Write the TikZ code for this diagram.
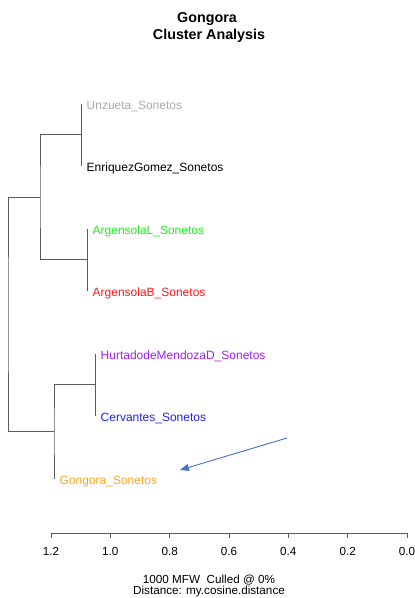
\documentclass[tikz,border=0pt]{standalone}
\usepackage{fontspec}
\setmainfont{Liberation Sans}
\usetikzlibrary{arrows.meta}
\definecolor{cgray}{HTML}{A9A9A9}
\definecolor{cgreen}{HTML}{22EE22}
\definecolor{cred}{HTML}{FF1A1A}
\definecolor{cpurple}{HTML}{A020F0}
\definecolor{cblue}{HTML}{2020F0}
\definecolor{corange}{HTML}{FFA520}
\definecolor{tree}{HTML}{5A5A5A}
\definecolor{arrowblue}{HTML}{4472C4}
\tikzset{
  branch/.style={draw=tree, line width=1pt},
  leaflabel/.style={anchor=base west, inner sep=0pt, xshift=5.5pt, yshift=-5.5pt, font=\fontsize{12}{14}\selectfont},
  axistext/.style={inner sep=0pt, font=\fontsize{11.7}{14}\selectfont},
  titletext/.style={anchor=base, inner sep=0pt, font=\fontsize{14.3}{17}\selectfont\bfseries}
}
\begin{document}
\begin{tikzpicture}[x=1pt,y=-1pt]
\useasboundingbox (0,0) rectangle (415,598);
% title
\node[titletext] (t1) at (207,22) {Gongora};
\node[titletext] (t2) at (209,39) {Cluster Analysis};
% leaves
\coordinate (unz) at (81,103.5);
\coordinate (enr) at (81,166);
\coordinate (argl) at (87,228.5);
\coordinate (argb) at (87,291);
\coordinate (hurt) at (95,353.5);
\coordinate (cerv) at (95,416);
\coordinate (gong) at (54,478.5);
% internal nodes
\coordinate (n1) at (81,134.75);
\coordinate (n2) at (87,259.75);
\coordinate (n3) at (40,197.25);
\coordinate (n4) at (95,384.75);
\coordinate (n5) at (54,431.6);
\coordinate (root) at (8,314.4);
% branches
\draw[branch] (unz) -- (enr);
\draw[branch] (argl) -- (argb);
\draw[branch] (hurt) -- (cerv);
\draw[branch] (n1) -| (n3) |- (n2);
\draw[branch] (n4) -| (n5) -- (gong);
\draw[branch] (n3) -| (root) |- (n5);
% labels
\node[leaflabel, text=cgray] (lunz) at (unz) {Unzueta\_Sonetos};
\node[leaflabel, text=black] (lenr) at (enr) {EnriquezGomez\_Sonetos};
\node[leaflabel, text=cgreen] (largl) at (argl) {ArgensolaL\_Sonetos};
\node[leaflabel, text=cred] (largb) at (argb) {ArgensolaB\_Sonetos};
\node[leaflabel, text=cpurple] (lhurt) at (hurt) {HurtadodeMendozaD\_Sonetos};
\node[leaflabel, text=cblue] (lcerv) at (cerv) {Cervantes\_Sonetos};
\node[leaflabel, text=corange] (lgong) at (gong) {Gongora\_Sonetos};
% arrow
\coordinate (arrs) at (287,438);
\coordinate (arre) at (180,470);
\draw[arrowblue, line width=0.9pt, -{Triangle[length=9pt,width=7pt]}] (arrs) -- (arre);
% axis
\coordinate (ax0) at (51,533);
\coordinate (ax1) at (407,533);
\draw[tree, line width=0.9pt] (ax0) -- (ax1);
\foreach \dv/\lab [count=\i] in {1.2/1.2,1.0/1.0,0.8/0.8,0.6/0.6,0.4/0.4,0.2/0.2,0.0/0.0}{
  \coordinate (tk\i) at ({407-296.67*\dv},533);
  \draw[tree, line width=0.9pt] (tk\i) -- ++(0,5);
  \node[axistext] (tl\i) at ({407-296.67*\dv},551) {\lab};
}
\node[axistext] (s1) at (209,580) {1000 MFW\ \ Culled @ 0\%};
\node[axistext] (s2) at (209,591.5) {Distance: my.cosine.distance};
\end{tikzpicture}
\end{document}
